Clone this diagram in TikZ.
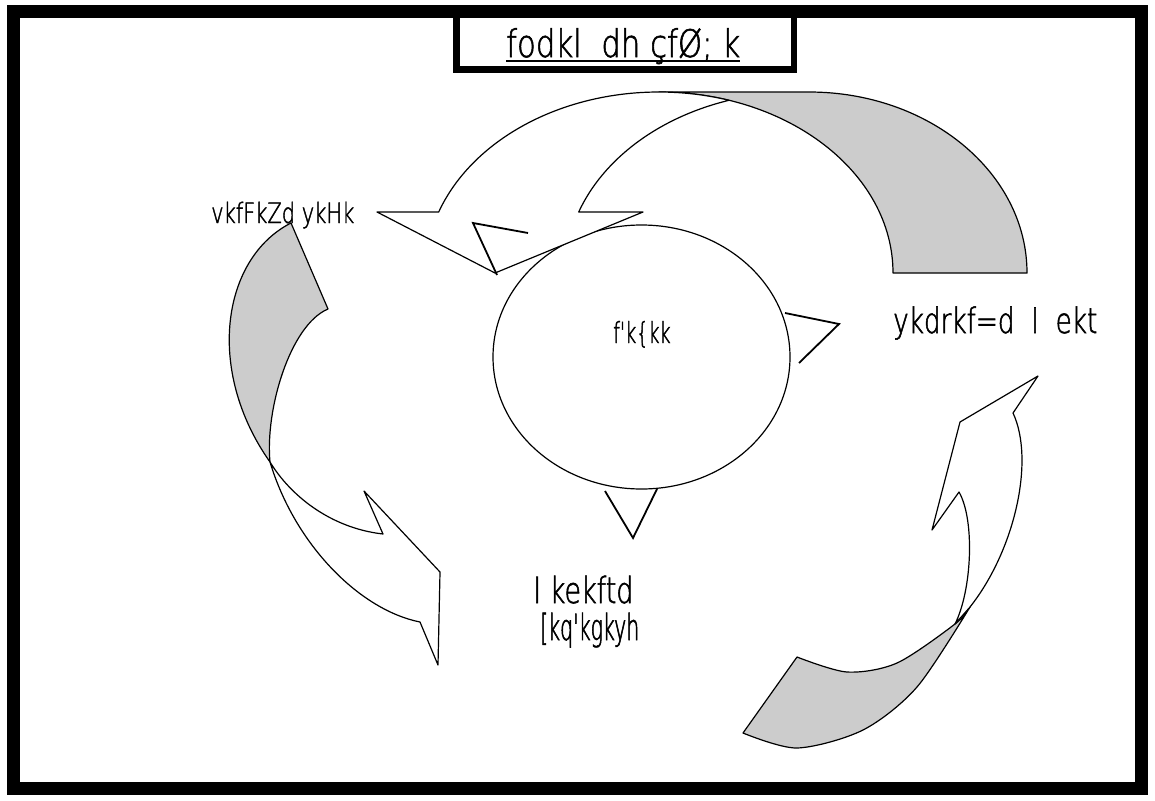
\documentclass[tikz,border=0pt]{standalone}
\usepackage{fontspec}
\setmainfont{Liberation Sans}[Ligatures=TeXOff]
\newfontfamily\titlefont{DejaVu Sans ExtraLight}[FakeStretch=0.81, FakeBold=1.5, Ligatures=TeXOff]
\newfontfamily\thinfont{DejaVu Sans ExtraLight}[FakeStretch=0.75, FakeBold=1.5, Ligatures=TeXOff]
\newfontfamily\narrowfont{DejaVu Sans ExtraLight}[FakeStretch=0.66, FakeBold=1.5, Ligatures=TeXOff]
\newfontfamily\tightfont{DejaVu Sans ExtraLight}[FakeStretch=0.57, FakeBold=1.5, Ligatures=TeXOff]
\usetikzlibrary{shapes.geometric}
\definecolor{ribbon}{RGB}{204,204,204}
\begin{document}
\begin{tikzpicture}[x=1pt,y=1pt,
  outline/.style={draw=black, line width=1.2pt, line join=round},
  whitearrow/.style={outline, fill=white},
  grayband/.style={outline, fill=ribbon},
  notch/.style={draw=black, line width=1.8pt, line join=miter},
  lbl/.style={anchor=base west, inner sep=0pt}]
\useasboundingbox (0,0) rectangle (1155,-800);
\fill[white] (0,0) rectangle (1155,-800);
% outer frame and title box
\draw[line width=13pt] (13.5,-11.5) rectangle (1141.5,-788.5);
\draw[line width=6.5pt] (456.5,-11) rectangle (794,-69.5);
\node[lbl, font=\titlefont\fontsize{38}{40}\selectfont] (title) at (506,-57) {fodkl\ \ dh çfØ; k};
\draw[line width=1.3pt] ([yshift=-4pt]title.base west) -- ([yshift=-4pt]title.base east);
% central ellipse
\node[ellipse, draw, line width=1.2pt, fill=white, minimum width=297pt, minimum height=264pt, inner sep=0pt] (edu) at (641.5,-357) {};
% top ribbon arrow
\path[grayband] (1027,-273) arc[start angle=0,end angle=90,x radius=218pt,y radius=181pt] -- (659,-92) arc[start angle=90,end angle=0,x radius=234pt,y radius=181pt] -- cycle;
\path[whitearrow] (659,-92) arc[start angle=90,end angle=160.3,x radius=234pt,y radius=181pt] -- (377,-212) -- (495,-273) -- (643,-212) -- (578.7,-212) arc[start angle=160.3,end angle=107.4,x radius=234pt,y radius=181pt] arc[start angle=72.6,end angle=90,x radius=234pt,y radius=181pt] -- cycle;
% left ribbon arrow
\path[grayband] (291,-223) -- (328,-309) .. controls (290,-325) and (265,-410) .. (270,-462) .. controls (205,-370) and (222,-258) .. (291,-223) -- cycle;
\path[whitearrow] (270,-462) .. controls (295,-545) and (360,-610) .. (420,-622) -- (438,-665) -- (440,-572) -- (364,-491) -- (383,-534) .. controls (330,-528) and (290,-495) .. (270,-462) -- cycle;
% right ribbon arrow
\path[grayband] plot[smooth] coordinates {(970,-607) (917,-687) (863,-730) (797,-748) (743,-733)} -- plot[smooth] coordinates {(797,-657) (847,-672) (897,-663) (955,-624) (970,-607)} -- cycle;
\path[whitearrow] (1038,-376) -- (960,-422) -- (932,-530) -- (959,-492) .. controls (975,-520) and (972,-590) .. (955,-624) -- (970,-607) .. controls (1015,-550) and (1035,-460) .. (1013,-413) -- cycle;
% open notches around the ellipse
\draw[notch] (528,-233) -- (473,-223) -- (497,-275);
\draw[notch] (785,-313) -- (839,-324) -- (799,-363);
\draw[notch] (605,-491) -- (633,-538) -- (657,-489);
% labels
\node[lbl, font=\thinfont\fontsize{28}{30}\selectfont] (econ) at (211,-223) {vkfFkZd ykHk};
\node[lbl, font=\thinfont\fontsize{35}{38}\selectfont] (polit) at (893,-333) {ykdrkf=d\ \ I\ \ ekt};
\node[lbl, font=\narrowfont\fontsize{29}{32}\selectfont] (edutext) at (613,-343) {f'k\{kk};
\node[lbl, font=\thinfont\fontsize{36}{40}\selectfont] (social1) at (533,-603) {I kekftd};
\node[lbl, font=\tightfont\fontsize{36}{40}\selectfont] (social2) at (540,-640) {[kq'kgkyh};
\end{tikzpicture}
\end{document}
